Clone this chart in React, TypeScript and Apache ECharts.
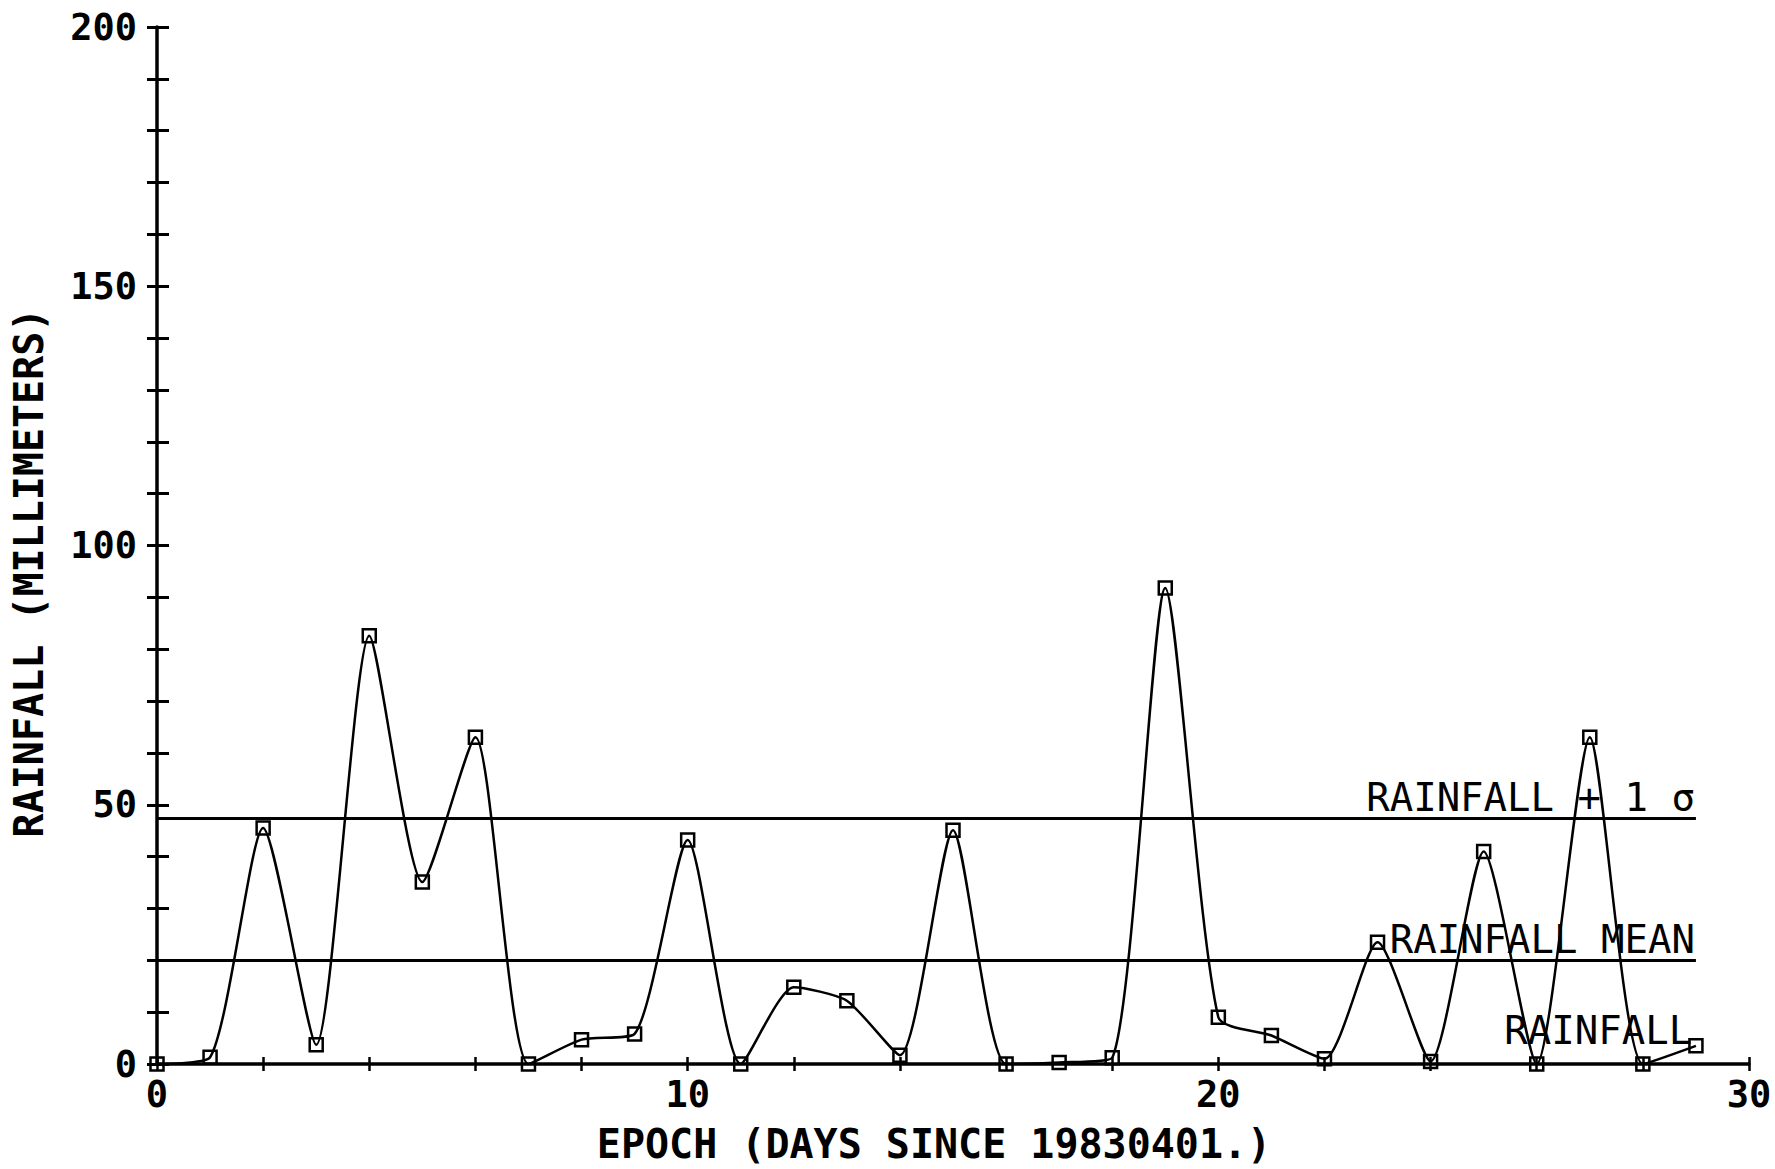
import React, { useEffect, useRef } from "react";
import * as echarts from "echarts";

const days = [0, 1, 2, 3, 4, 5, 6, 7, 8, 9, 10, 11, 12, 13, 14, 15, 16, 17, 18, 19, 20, 21, 22, 23, 24, 25, 26, 27, 28, 29];
const rainfall = [0, 1.3, 45.5, 3.7, 82.6, 35.1, 63.0, 0, 4.7, 5.8, 43.2, 0, 14.8, 12.2, 1.7, 45.1, 0, 0.3, 1.2, 91.8, 9.0, 5.5, 1.0, 23.5, 0.5, 41.0, 0, 63.0, 0, 3.5];
const rainfallMean = 20.1;
const rainfallPlusSigma = 47.4;
const lineEndDay = 29;
const xTickLabels = [0, 10, 20, 30];
const yTickLabels = [0, 50, 100, 150, 200];

export default function App() {
  const ref = useRef<HTMLDivElement>(null);
  useEffect(() => {
    const chart = echarts.init(ref.current!, null, { renderer: "svg" });
    const mono = "'DejaVu Sans Mono', monospace";
    const black = "#000";
    const seriesData = days.map((d, i) =>
      i === days.length - 1
        ? {
            value: [d, rainfall[i]],
            label: {
              show: true,
              formatter: "RAINFALL",
              position: "left",
              distance: 0,
              offset: [4, -15],
              fontFamily: mono,
              fontSize: 39,
              color: black,
            },
          }
        : [d, rainfall[i]]
    );
    chart.setOption({
      animation: false,
      backgroundColor: "#fff",
      grid: { left: 157, right: 26, top: 27, bottom: 105, containLabel: false },
      xAxis: [
        {
          type: "value",
          min: 0,
          max: 30,
          interval: 2,
          axisLine: { show: true, lineStyle: { color: black, width: 3.5 } },
          axisTick: { show: true, length: 7, lineStyle: { color: black, width: 2.5 } },
          axisLabel: {
            formatter: (v: number) => (xTickLabels.includes(v) ? String(v) : ""),
            fontFamily: mono,
            fontWeight: "bold",
            fontSize: 37,
            color: black,
            margin: 12,
          },
          splitLine: { show: false },
          name: "EPOCH (DAYS SINCE 19830401.)",
          nameLocation: "middle",
          nameGap: 60,
          nameTextStyle: {
            fontFamily: mono,
            fontWeight: "bold",
            fontSize: 40,
            color: black,
            padding: [0, 38, 0, 0],
          },
        },
        {
          type: "value",
          min: 0,
          max: 30,
          interval: 2,
          position: "bottom",
          axisLine: { show: false },
          axisTick: { show: true, inside: true, length: 7, lineStyle: { color: black, width: 2.5 } },
          axisLabel: { show: false },
          splitLine: { show: false },
        },
      ],
      yAxis: [
        {
          type: "value",
          min: 0,
          max: 200,
          interval: 10,
          axisLine: { show: true, lineStyle: { color: black, width: 3.5 } },
          axisTick: { show: true, length: 10, lineStyle: { color: black, width: 3 } },
          axisLabel: {
            formatter: (v: number) => (yTickLabels.includes(v) ? String(v) : ""),
            fontFamily: mono,
            fontWeight: "bold",
            fontSize: 37,
            color: black,
            margin: 20,
          },
          splitLine: { show: false },
          name: "RAINFALL (MILLIMETERS)",
          nameLocation: "middle",
          nameGap: 108,
          nameTextStyle: {
            fontFamily: mono,
            fontWeight: "bold",
            fontSize: 40,
            color: black,
            padding: [0, 54, 0, 0],
          },
        },
        {
          type: "value",
          min: 0,
          max: 200,
          interval: 10,
          position: "left",
          axisLine: { show: false },
          axisTick: { show: true, inside: true, length: 12, lineStyle: { color: black, width: 3 } },
          axisLabel: { show: false },
          splitLine: { show: false },
        },
      ],
      series: [
        {
          type: "line",
          name: "RAINFALL",
          xAxisIndex: 0,
          yAxisIndex: 0,
          data: seriesData,
          smooth: 0.22,
          clip: true,
          symbol: "rect",
          symbolSize: 13,
          lineStyle: { color: black, width: 2.5 },
          itemStyle: { color: "rgba(255,255,255,0)", borderColor: black, borderWidth: 2.5 },
          markLine: {
            silent: true,
            symbol: ["none", "none"],
            lineStyle: { color: black, width: 3, type: "solid" },
            label: {
              show: true,
              position: "insideEndTop",
              formatter: (p: any) => p.name,
              fontFamily: mono,
              fontSize: 39,
              color: black,
              distance: 1,
            },
            data: [
              [
                { coord: [0, rainfallPlusSigma], name: "RAINFALL + 1 σ" },
                { coord: [lineEndDay, rainfallPlusSigma] },
              ],
              [
                { coord: [0, rainfallMean], name: "RAINFALL MEAN" },
                { coord: [lineEndDay, rainfallMean] },
              ],
            ],
          },
        },
      ],
    });
    return () => chart.dispose();
  }, []);
  return (
    <div
      ref={ref}
      style={{ position: "absolute", left: 0, top: 0, width: 1775, height: 1169, background: "#fff" }}
    />
  );
}
